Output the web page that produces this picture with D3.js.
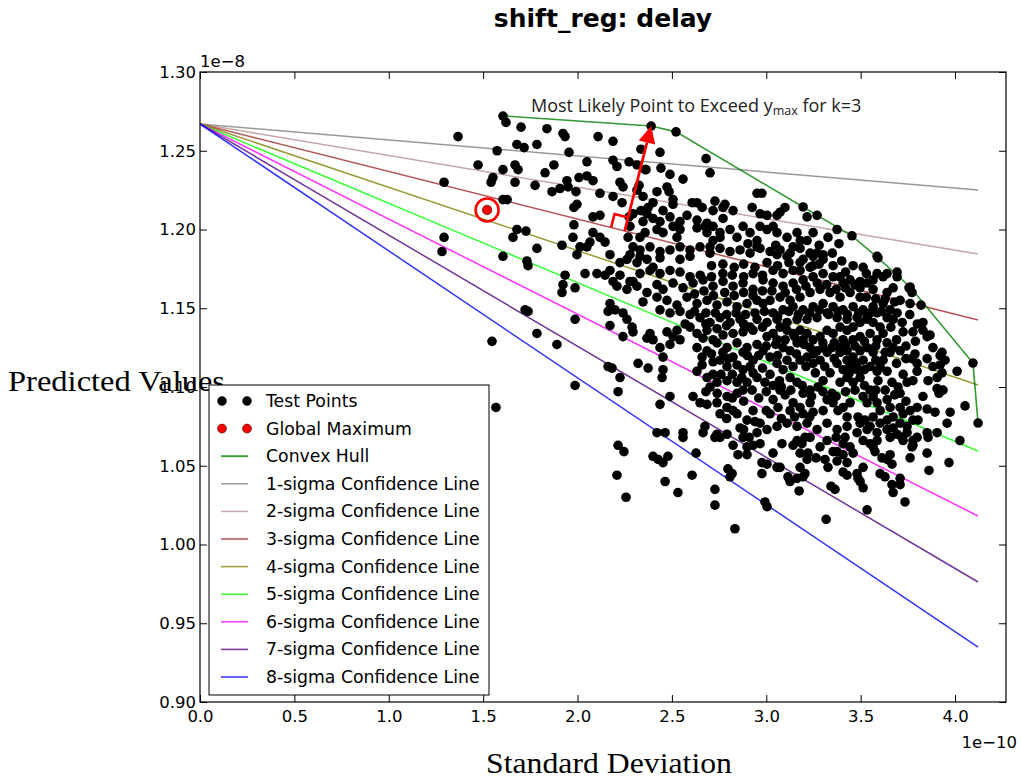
<!DOCTYPE html>
<html><head><meta charset="utf-8">
<script src="https://cdn.jsdelivr.net/npm/d3@7"></script>
<style>body{margin:0;background:#fff}svg{display:block}</style>
</head><body>
<svg id="chart" width="1021" height="778"></svg>
<script>
// ---- data (x in units of 1e-10, y in units of 1e-8) ----
const xTicks = [0.0,0.5,1.0,1.5,2.0,2.5,3.0,3.5,4.0];
const yTicks = [0.90,0.95,1.00,1.05,1.10,1.15,1.20,1.25,1.30];
const legendLabels = ["Test Points","Global Maximum","Convex Hull","1-sigma Confidence Line","2-sigma Confidence Line","3-sigma Confidence Line","4-sigma Confidence Line","5-sigma Confidence Line","6-sigma Confidence Line","7-sigma Confidence Line","8-sigma Confidence Line"];
const sigmaK = [1,2,3,4,5,6,7,8];
const sigmaColors = ["#808080","#bc8f8f","#a52a2a","#808000","#00ff00","#ff00ff","#4b0082","#0000ff"];
const lineStartY = 1.267;
const lineEndX = 4.122;
const lineEndY = [1.2251,1.1844,1.1425,1.1013,1.0594,1.0181,0.9762,0.9349];
const globalMax = [1.521,1.2124];
const mostLikely = [2.390,1.2657];
const hullX = [1.605,2.390,2.522,3.195,3.454,3.592,3.762,4.095,4.122];
const hullY = [1.2721,1.2657,1.2620,1.2143,1.1960,1.1820,1.1635,1.1152,1.0771];
const testPoints = [
[1.605,1.272],[1.621,1.268],[1.701,1.265],[1.367,1.259],[1.574,1.250],[1.679,1.254],[1.717,1.252],[1.785,1.254],[1.473,1.241],[1.605,1.238],[1.669,1.241],[1.685,1.238],[1.552,1.233],[1.542,1.230],[1.669,1.230],[1.775,1.228],[1.293,1.230],[1.605,1.219],[1.627,1.219],[1.679,1.200],[1.727,1.199],[1.658,1.195],[1.785,1.188],[1.293,1.195],[1.282,1.186],[1.605,1.183],[1.732,1.180],[1.738,1.177],[1.722,1.149],[1.738,1.148],[1.785,1.134],[1.547,1.129],[1.568,1.087],
[1.838,1.264],[1.923,1.261],[1.934,1.259],[2.109,1.259],[2.188,1.256],[1.955,1.249],[2.336,1.251],[2.437,1.249],[2.681,1.245],[1.828,1.236],[1.875,1.241],[2.050,1.243],[2.188,1.244],[2.209,1.240],[2.273,1.243],[2.363,1.238],[2.442,1.239],[2.490,1.235],[2.559,1.232],[2.702,1.236],[1.944,1.231],[2.008,1.233],[2.050,1.234],[2.082,1.231],[1.865,1.224],[1.907,1.226],[1.950,1.227],[1.992,1.224],[2.119,1.223],[2.225,1.230],[2.241,1.227],[2.188,1.221],[2.326,1.228],[2.421,1.224],[2.474,1.227],[2.485,1.224],[2.506,1.219],[2.347,1.221],[2.400,1.217],[2.728,1.218],[2.633,1.217],[2.660,1.214],[2.718,1.212],[1.997,1.216],[1.981,1.214],[2.082,1.208],[2.119,1.209],[2.236,1.217],[2.294,1.210],[2.273,1.208],
[2.336,1.212],[2.368,1.210],[2.400,1.207],[2.437,1.205],[2.490,1.208],[2.543,1.205],[2.580,1.209],[2.633,1.206],[2.686,1.204],[2.718,1.202],[1.981,1.203],[1.976,1.195],[2.013,1.189],[2.082,1.198],[2.119,1.195],[2.146,1.192],[2.066,1.192],[2.050,1.189],[1.918,1.190],[2.172,1.184],[2.262,1.181],[2.315,1.179],[2.368,1.181],[2.400,1.176],[2.040,1.172],[2.103,1.172],[2.146,1.171],[2.188,1.167],[2.294,1.167],[2.331,1.172],[1.934,1.171],[1.923,1.165],[1.987,1.163],
[2.390,1.2657],[2.522,1.262],[2.315,1.241],[2.358,1.238],[2.315,1.225],[2.374,1.214],[2.453,1.212],[2.506,1.216],[2.607,1.217],[2.781,1.216],[2.824,1.212],[2.771,1.207],[2.925,1.214],[2.967,1.210],[3.004,1.209],[2.951,1.223],[2.977,1.223],[3.099,1.214],[3.057,1.209],[3.036,1.202],[3.195,1.2143],[3.216,1.208],[3.269,1.209],[2.278,1.202],[2.268,1.195],[2.294,1.189],[2.347,1.205],[2.358,1.198],[2.331,1.195],[2.421,1.200],[2.453,1.198],[2.506,1.202],[2.543,1.200],[2.527,1.195],[2.633,1.201],[2.686,1.198],[2.755,1.198],[2.808,1.200],[2.845,1.195],[2.877,1.202],[2.914,1.198],[2.951,1.193],[2.967,1.202],[3.004,1.200],[3.057,1.198],[3.110,1.195],[3.163,1.198],[3.216,1.193],[3.248,1.198],
[2.331,1.187],[2.384,1.189],[2.437,1.186],[2.490,1.187],[2.543,1.189],[2.596,1.187],[2.649,1.189],[2.702,1.185],[2.755,1.188],[2.808,1.186],[2.861,1.187],[2.914,1.185],[2.967,1.188],[3.020,1.186],[3.073,1.187],[3.126,1.185],[3.179,1.188],[3.232,1.185],
[2.771,1.214],[2.675,1.202],[3.073,1.211],[3.375,1.200],[3.385,1.191],[3.454,1.196],[3.327,1.195],[3.592,1.182],[3.513,1.176],[3.693,1.173],[3.762,1.1635],[2.951,1.189],[2.903,1.191],[2.755,1.195],[2.718,1.193],[2.702,1.189],[3.110,1.183],[3.269,1.185],[3.301,1.181],[3.248,1.177],[3.179,1.179],[3.142,1.174],[3.089,1.172],[3.036,1.174],[3.004,1.179],[3.354,1.177],[3.391,1.170],[3.444,1.168],[3.497,1.167],[3.566,1.168],[3.619,1.170],[3.142,1.189],
[3.587,1.183],[3.756,1.163],[3.772,1.160],[3.820,1.152],[3.762,1.153],[3.830,1.141],[3.725,1.135],[3.777,1.135],[3.830,1.136],[3.852,1.132],[3.883,1.125],[3.931,1.122],[3.947,1.117],[3.921,1.114],[3.883,1.113],[3.931,1.109],[3.905,1.106],[4.011,1.110],[4.053,1.088],[3.974,1.084],[3.958,1.077],[3.894,1.084],[3.830,1.094],[3.799,1.087],[3.762,1.085],[3.725,1.083],[3.777,1.079],[3.746,1.075],[3.857,1.104],[3.799,1.110],[3.799,1.115],[3.852,1.118],[3.725,1.108],[3.746,1.103],[3.698,1.100],[3.666,1.103],[3.709,1.096],
[3.672,1.125],[3.656,1.122],[3.709,1.123],[3.640,1.128],[3.619,1.117],[3.603,1.113],[3.587,1.110],[3.592,1.104],[3.550,1.098],[3.566,1.094],[3.513,1.094],[3.534,1.090],[3.587,1.090],[3.603,1.085],[3.640,1.092],[3.656,1.087],[3.486,1.081],[3.523,1.079],[3.566,1.081],[3.497,1.077],[3.550,1.075],[3.672,1.081],[3.709,1.077],[3.640,1.079],[3.444,1.090],[3.407,1.087],[3.380,1.085],[3.428,1.081],[3.348,1.096],[3.322,1.092],[3.354,1.090],[3.301,1.085],[3.232,1.090],[3.248,1.084],[3.195,1.083],[3.179,1.087],[3.142,1.090],[3.126,1.085],[3.073,1.098],[3.036,1.092],[3.062,1.087],[3.020,1.083],[3.036,1.101],[2.993,1.103],
[3.391,1.103],[3.428,1.106],[3.460,1.103],[3.497,1.106],[3.481,1.111],[3.444,1.114],[3.407,1.111],[3.375,1.115],[3.338,1.109],[3.301,1.104],[3.274,1.100],[3.232,1.098],[3.195,1.096],[3.163,1.103],[3.126,1.106],[3.089,1.111],[3.057,1.115],[3.020,1.119],[2.983,1.123],[3.142,1.113],[3.179,1.117],[3.216,1.119],[3.248,1.115],[3.285,1.117],[3.322,1.122],[3.348,1.125],[3.301,1.125],[3.269,1.123],[3.232,1.125],[3.195,1.130],[3.163,1.128],[3.126,1.123],[3.089,1.125],[3.057,1.130],
[3.391,1.122],[3.428,1.123],[3.460,1.119],[3.497,1.123],[3.534,1.125],[3.566,1.122],[3.513,1.117],[3.550,1.113],[3.481,1.115],[3.428,1.117],[3.391,1.125],[3.407,1.130],[3.460,1.130],[3.497,1.132],[3.550,1.134],[3.587,1.130],[3.619,1.134],[3.603,1.138],[3.566,1.141],[3.534,1.143],[3.497,1.141],[3.460,1.138],[3.428,1.136],[3.391,1.138],[3.354,1.134],[3.322,1.136],[3.285,1.132],[3.248,1.130],[3.216,1.134],[3.179,1.136],[3.142,1.134],[3.110,1.136],[3.073,1.138],[3.036,1.134],[3.004,1.132],
[3.057,1.184],[3.195,1.181],[3.248,1.183],[3.301,1.184],[3.232,1.176],[3.179,1.174],[2.983,1.168],[3.036,1.166],[3.089,1.164],[3.142,1.166],[3.195,1.168],[3.248,1.170],[3.301,1.172],[3.354,1.170],[3.407,1.166],[3.497,1.163],[3.534,1.166],[3.566,1.162],[3.497,1.157],[3.444,1.160],[3.391,1.157],[3.338,1.160],[3.285,1.162],[3.232,1.160],[3.179,1.157],[3.126,1.155],[3.073,1.157],[3.020,1.155],[2.983,1.153],
[3.036,1.147],[3.089,1.149],[3.142,1.151],[3.195,1.149],[3.248,1.151],[3.301,1.153],[3.354,1.151],[3.407,1.149],[3.460,1.151],[3.513,1.149],[3.566,1.151],[3.619,1.153],[3.656,1.149],[3.693,1.147],[3.672,1.143],[3.640,1.144],[3.587,1.147],[3.534,1.144],[3.481,1.144],[3.428,1.143],[3.375,1.144],[3.322,1.147],[3.269,1.144],[3.216,1.143],[3.163,1.143],[3.110,1.141],[3.057,1.143],[3.004,1.141],[3.709,1.155],[3.640,1.160],[3.672,1.163],[3.587,1.172],[3.640,1.172],[3.693,1.170],
[2.967,1.077],[3.004,1.073],[3.057,1.075],[3.110,1.077],[3.163,1.075],[3.216,1.077],[3.269,1.073],[3.322,1.077],[3.375,1.073],[3.428,1.075],[3.481,1.071],[3.534,1.073],[3.587,1.071],[3.640,1.073],[3.693,1.070],[3.746,1.071],[3.799,1.068],[3.852,1.071],[3.905,1.071],
[1.997,1.184],[2.225,1.179],[2.278,1.184],[2.331,1.183],[2.437,1.182],[2.543,1.181],[2.596,1.183],[2.172,1.174],[2.225,1.171],[2.278,1.167],[2.384,1.174],[2.437,1.172],[2.490,1.174],[2.543,1.173],[2.596,1.170],[1.918,1.160],[2.209,1.164],[2.262,1.162],[2.315,1.164],[2.368,1.160],[2.421,1.165],[2.453,1.162],[2.506,1.166],[2.559,1.163],[2.612,1.166],[2.665,1.168],[2.718,1.164],[2.771,1.167],[2.824,1.164],[2.877,1.166],[2.930,1.162],
[2.347,1.154],[2.421,1.157],[2.474,1.155],[2.527,1.152],[2.580,1.157],[2.633,1.153],[2.686,1.155],[2.739,1.152],[2.792,1.154],[2.845,1.151],[2.898,1.153],[2.951,1.155],[2.172,1.153],[2.199,1.149],[2.162,1.148],[2.241,1.147],[2.262,1.143],[2.289,1.138],[2.437,1.149],[2.490,1.147],[2.543,1.148],[2.596,1.146],[2.649,1.144],[2.702,1.141],[2.755,1.144],[2.808,1.141],[2.861,1.143],[2.914,1.138],[2.951,1.143],[1.987,1.143],[2.172,1.139],
[2.384,1.134],[2.368,1.131],[2.400,1.130],[2.437,1.125],[2.453,1.119],[2.474,1.135],[2.527,1.136],[2.506,1.132],[2.543,1.130],[2.490,1.127],[2.596,1.138],[2.633,1.134],[2.686,1.136],[2.739,1.137],[2.665,1.131],[2.718,1.130],[2.771,1.133],[2.824,1.134],[2.877,1.135],[2.930,1.136],[2.633,1.125],[2.686,1.123],[2.739,1.128],[2.792,1.125],[2.845,1.128],[2.898,1.125],[2.951,1.127],[2.824,1.119],[2.877,1.122],[2.930,1.117],[2.914,1.113],[2.877,1.111],[2.845,1.114],[2.792,1.113],[2.755,1.117],
[2.321,1.115],[2.374,1.112],[2.453,1.111],[2.448,1.106],[2.162,1.113],[2.225,1.106],[2.215,1.097],[1.987,1.101],[2.633,1.110],[2.686,1.106],[2.718,1.108],[2.739,1.103],[2.702,1.100],[2.792,1.104],[2.845,1.103],[2.898,1.103],[2.951,1.106],[2.925,1.098],[2.877,1.098],[2.845,1.096],[2.792,1.094],[2.490,1.094],[2.437,1.089],[2.612,1.094],[2.649,1.090],[2.686,1.089],[2.739,1.090],[2.792,1.087],[2.824,1.085],[2.845,1.083],[2.755,1.083],[2.898,1.079],[2.930,1.085],
[2.421,1.071],[2.559,1.071],[2.665,1.071],[2.739,1.070],[2.792,1.070],[2.877,1.068],[1.891,1.127],[2.183,1.112],[2.294,1.135],[2.241,1.132],[2.464,1.071],[2.559,1.068],[2.215,1.063],[2.246,1.059],[2.400,1.056],[2.427,1.054],[2.453,1.052],[2.479,1.056],[2.628,1.058],[2.209,1.044],[2.257,1.030],[2.464,1.040],[2.532,1.033],[2.607,1.044],[2.728,1.035],[2.728,1.025],[2.675,1.075],[2.718,1.116],[2.728,1.068],
[2.861,1.074],[2.824,1.063],[2.850,1.057],[2.898,1.057],[2.819,1.045],[2.808,1.043],[2.909,1.068],[2.930,1.063],[2.967,1.064],[2.951,1.071],[2.977,1.052],[3.004,1.051],[2.977,1.045],[2.993,1.027],[3.004,1.024],[2.834,1.010],[3.036,1.058],[3.073,1.049],[3.083,1.064],[3.115,1.043],[3.126,1.040],[3.163,1.042],[3.174,1.034],[3.142,1.063],[3.189,1.064],[3.205,1.068],[3.179,1.058],[3.221,1.058],[3.264,1.055],[3.205,1.045],[3.317,1.016],[3.327,1.049],[3.343,1.037],[3.364,1.035],
[3.370,1.068],[3.417,1.068],[3.375,1.059],[3.407,1.057],[3.428,1.052],[3.513,1.066],[3.550,1.064],[3.566,1.062],[3.587,1.066],[3.576,1.059],[3.460,1.058],[3.428,1.044],[3.486,1.042],[3.497,1.040],[3.513,1.036],[3.513,1.049],[3.534,1.022],[3.613,1.055],[3.656,1.057],[3.629,1.043],[3.666,1.038],[3.672,1.033],[3.709,1.038],[3.735,1.027],[3.656,1.068],[3.719,1.068],[3.777,1.066],[3.777,1.063],[3.762,1.055],[3.852,1.058],[3.862,1.047],[3.857,1.068],[3.968,1.052],[4.026,1.066],[3.603,1.077],
[4.095,1.1152],[4.122,1.0771],[3.936,1.098],[3.915,1.096],[3.921,1.120],[3.868,1.133],[3.788,1.121],[3.772,1.118],[3.777,1.104],[3.905,1.099],[3.852,1.086],[3.804,1.079],[3.772,1.062],[3.709,1.087],[3.672,1.074],[3.725,1.066],[3.640,1.054],[3.666,1.051],[3.709,1.042],[3.603,1.045],[3.481,1.045],[3.375,1.053],[3.407,1.046],[3.311,1.054],[3.444,1.062],[3.407,1.064],[3.354,1.059],[3.322,1.066],[3.285,1.062],[3.216,1.054],[3.179,1.049],[3.195,1.043],[3.232,1.068],[3.163,1.066],[3.057,1.049],[2.898,1.062],[2.755,1.068],[2.797,1.048],
[2.71,1.177],[2.77,1.178],[2.83,1.176],[2.88,1.178],[2.94,1.176],[2.65,1.171],[2.71,1.170],[2.77,1.172],[2.82,1.171],[2.88,1.170],[2.93,1.172],[2.98,1.171],
[2.62,1.159],[2.67,1.161],[2.72,1.158],[2.78,1.160],[2.83,1.158],[2.88,1.160],[2.93,1.158],[2.98,1.161],
[2.62,1.148],[2.68,1.147],[2.73,1.147],[2.79,1.146],[2.84,1.147],[2.89,1.146],[2.94,1.147],[2.99,1.148],
[2.57,1.140],[2.68,1.140],[2.79,1.139],[2.88,1.140],[2.98,1.138],
[2.66,1.119],[2.71,1.121],[2.77,1.122],[2.80,1.118],[2.90,1.120],[2.96,1.120],[3.00,1.126],
[2.66,1.114],[2.76,1.108],[2.82,1.108],[2.87,1.106],[2.93,1.109],[2.98,1.112],[3.02,1.108],[3.07,1.104],
[2.68,1.097],[2.74,1.096],[2.82,1.093],[2.88,1.091],[2.96,1.093],[3.00,1.097],[3.10,1.095],
[2.79,1.080],[2.88,1.073],[2.94,1.078],[3.00,1.085],[3.08,1.080],[3.15,1.081],[3.23,1.081],
[3.06,1.120],[3.11,1.117],[3.16,1.121],[3.21,1.113],[3.26,1.109],[3.31,1.113],[3.36,1.118],[3.44,1.109],[3.52,1.111],[3.58,1.117],[3.64,1.110],[3.69,1.115],[3.74,1.118],[3.69,1.130],[3.74,1.126],[3.66,1.138],[3.72,1.141],[3.76,1.146],[3.80,1.140],[3.79,1.129],
[3.06,1.145],[3.12,1.148],[3.17,1.146],[3.23,1.147],[3.28,1.149],[3.33,1.146],[3.38,1.148],[3.43,1.146],[3.49,1.147],[3.55,1.147],[3.61,1.148],
[3.03,1.161],[3.10,1.160],[3.16,1.162],[3.21,1.164],[3.27,1.166],[3.32,1.165],[3.37,1.162],[3.42,1.163],[3.47,1.165],[3.53,1.157],[3.58,1.156],[3.63,1.156],[3.68,1.154],
[3.05,1.127],[3.10,1.130],[3.15,1.132],[3.20,1.127],[3.25,1.121],[3.30,1.128],[3.36,1.128],[3.42,1.127],[3.47,1.126],[3.52,1.129],[3.58,1.126],[3.63,1.122],
[3.08,1.100],[3.13,1.098],[3.19,1.101],[3.24,1.094],[3.30,1.097],[3.37,1.094],[3.42,1.097],[3.47,1.098],[3.52,1.101],[3.58,1.098],[3.63,1.098],[3.68,1.095],[3.74,1.091],
[3.05,1.190],[3.18,1.193],[3.28,1.190],[3.35,1.185],[3.40,1.180],[3.46,1.177],[3.53,1.172],[3.06,1.177],[3.12,1.179],[3.28,1.178],[3.42,1.173]
];

// ---- layout ----
const W = 1021, H = 778;
const M = {left:200, top:72, right:1006, bottom:702};
const svg = d3.select("#chart");
const x = d3.scaleLinear().domain([0,4.27]).range([M.left,M.right]);
const y = d3.scaleLinear().domain([0.90,1.30]).range([M.bottom,M.top]);
const FONT = "'DejaVu Sans', sans-serif";
const SERIF = "'Liberation Serif', 'Times New Roman', serif";

svg.append("rect").attr("width",W).attr("height",H).attr("fill","#fff");

svg.append("defs").append("clipPath").attr("id","plotclip")
  .append("rect").attr("x",M.left).attr("y",M.top).attr("width",M.right-M.left).attr("height",M.bottom-M.top);
const plot = svg.append("g").attr("clip-path","url(#plotclip)");

// confidence lines
sigmaK.forEach((k,i)=>{
  plot.append("line")
    .attr("x1",x(0)).attr("y1",y(lineStartY))
    .attr("x2",x(lineEndX)).attr("y2",y(lineEndY[i]))
    .attr("stroke",sigmaColors[i]).attr("stroke-opacity",0.8).attr("stroke-width",1.5);
});

// convex hull
const hullData = hullX.map((v,i)=>[v,hullY[i]]);
plot.append("path").datum(hullData)
  .attr("d",d3.line().x(d=>x(d[0])).y(d=>y(d[1])))
  .attr("fill","none").attr("stroke","#008000").attr("stroke-opacity",0.8).attr("stroke-width",1.6);

// test points
plot.append("g").selectAll("circle").data(testPoints).join("circle")
  .attr("cx",d=>x(d[0])).attr("cy",d=>y(d[1])).attr("r",4.8).attr("fill","#000");

// global maximum
plot.append("circle").attr("cx",x(globalMax[0])).attr("cy",y(globalMax[1])).attr("r",4.8).attr("fill","#ff0000").attr("stroke","#000").attr("stroke-width",0.5);
plot.append("circle").attr("cx",x(globalMax[0])).attr("cy",y(globalMax[1])).attr("r",11.5).attr("fill","none").attr("stroke","#ff0000").attr("stroke-width",2.6);

// arrow perpendicular (in screen space) to the 3-sigma line
(function(){
  const p0=[x(0),y(lineStartY)], p1=[x(lineEndX),y(lineEndY[2])];
  let dx=p1[0]-p0[0], dy=p1[1]-p0[1]; const L=Math.hypot(dx,dy); dx/=L; dy/=L;
  const tip=[x(mostLikely[0]),y(mostLikely[1])];
  const t=(tip[0]-p0[0])*dx+(tip[1]-p0[1])*dy;
  const foot=[p0[0]+t*dx,p0[1]+t*dy];
  let nx=tip[0]-foot[0], ny=tip[1]-foot[1]; const N=Math.hypot(nx,ny); nx/=N; ny/=N;
  const s=14;
  const A=[foot[0]-s*dx,foot[1]-s*dy], B=[A[0]+s*nx,A[1]+s*ny], C=[foot[0]+s*nx,foot[1]+s*ny];
  svg.append("path").attr("d",`M${A}L${B}L${C}`).attr("fill","none").attr("stroke","#ff0000").attr("stroke-width",2.6);
  const headLen=17, headW=8.5;
  const base=[tip[0]-headLen*nx,tip[1]-headLen*ny];
  svg.append("line").attr("x1",foot[0]).attr("y1",foot[1]).attr("x2",base[0]).attr("y2",base[1])
    .attr("stroke","#ff0000").attr("stroke-width",2.8);
  const px=-ny, py=nx;
  svg.append("path").attr("d",`M${tip}L${[base[0]+headW*px,base[1]+headW*py]}L${[base[0]-headW*px,base[1]-headW*py]}Z`).attr("fill","#ff0000");
})();

// annotation
const ann = svg.append("text").attr("x",531).attr("y",112).attr("font-family","'Open Sans', sans-serif").attr("font-size",18).attr("fill","#222");
ann.append("tspan").text("Most Likely Point to Exceed y");
ann.append("tspan").attr("font-size",12.5).attr("dy",3).text("max");
ann.append("tspan").attr("dy",-3).text(" for k=3");

// axes
const fmtX=d3.format(".1f"), fmtY=d3.format(".2f");
const gx=svg.append("g").attr("transform",`translate(0,${M.bottom})`)
  .call(d3.axisBottom(x).tickValues(xTicks).tickFormat(fmtX).tickSizeInner(-7).tickSizeOuter(0).tickPadding(8));
const gxt=svg.append("g").attr("transform",`translate(0,${M.top})`)
  .call(d3.axisTop(x).tickValues(xTicks).tickFormat("").tickSizeInner(-7).tickSizeOuter(0));
const gy=svg.append("g").attr("transform",`translate(${M.left},0)`)
  .call(d3.axisLeft(y).tickValues(yTicks).tickFormat(fmtY).tickSizeInner(-7).tickSizeOuter(0).tickPadding(4));
const gyr=svg.append("g").attr("transform",`translate(${M.right},0)`)
  .call(d3.axisRight(y).tickValues(yTicks).tickFormat("").tickSizeInner(-7).tickSizeOuter(0));
[gx,gxt,gy,gyr].forEach(g=>{
  g.select(".domain").remove();
  g.selectAll(".tick line").attr("stroke","#000").attr("stroke-width",1);
  g.selectAll("text").attr("font-family",FONT).attr("font-size",16.5).attr("fill","#000");
});
svg.append("rect").attr("x",M.left).attr("y",M.top).attr("width",M.right-M.left).attr("height",M.bottom-M.top)
  .attr("fill","none").attr("stroke","#000").attr("stroke-width",1.2);

// offset texts
svg.append("text").attr("x",200).attr("y",67).attr("font-family",FONT).attr("font-size",16.5).text("1e\u22128");
svg.append("text").attr("x",1017).attr("y",748).attr("text-anchor","end").attr("font-family",FONT).attr("font-size",16.5).text("1e\u221210");

// title and axis labels
svg.append("text").attr("x",(M.left+M.right)/2).attr("y",27).attr("text-anchor","middle")
  .attr("font-family",FONT).attr("font-weight","bold").attr("font-size",25).text("shift_reg: delay");
svg.append("text").attr("x",8).attr("y",391).attr("font-family",SERIF).attr("font-size",29)
  .attr("textLength",217).attr("lengthAdjust","spacingAndGlyphs").text("Predicted Values");
svg.append("text").attr("x",486).attr("y",773).attr("font-family",SERIF).attr("font-size",29)
  .attr("textLength",246).attr("lengthAdjust","spacingAndGlyphs").text("Standard Deviation");

// legend
const lg = svg.append("g");
lg.append("rect").attr("x",209).attr("y",385).attr("width",280).attr("height",310).attr("fill","#fff").attr("stroke","#000").attr("stroke-width",1);
legendLabels.forEach((lab,i)=>{
  const yy = 401 + i*27.6;
  if(i===0||i===1){
    [222,247].forEach(cx=>lg.append("circle").attr("cx",cx).attr("cy",yy).attr("r",4.5).attr("fill",i===0?"#000":"#ff0000").attr("stroke","#000").attr("stroke-width",0.5));
  } else {
    const col = i===2 ? "#008000" : sigmaColors[i-3];
    lg.append("line").attr("x1",221).attr("x2",248).attr("y1",yy).attr("y2",yy).attr("stroke",col).attr("stroke-opacity",0.75).attr("stroke-width",i===2?2:1.6);
  }
  lg.append("text").attr("x",266).attr("y",yy+6).attr("font-family",FONT).attr("font-size",17.3).attr("fill","#000").text(lab);
});
</script>
</body></html>
